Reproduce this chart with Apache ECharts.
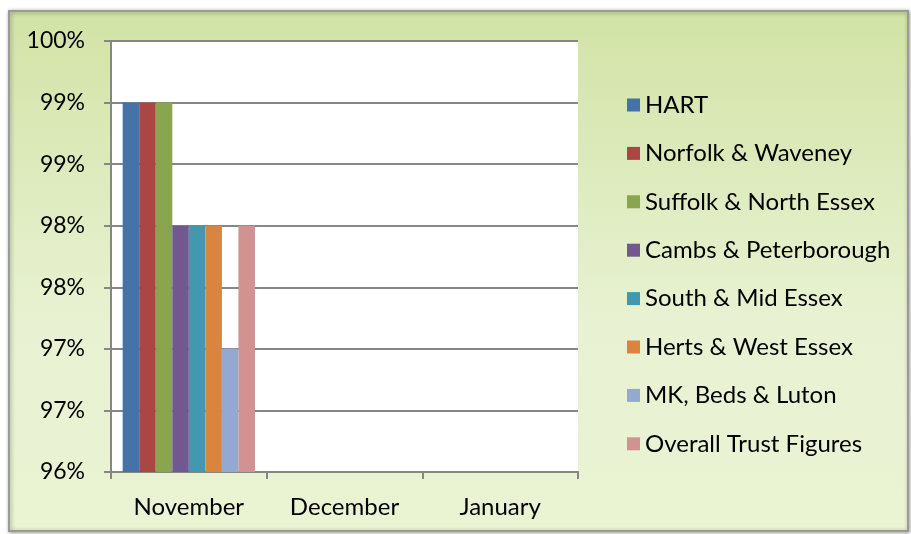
<!DOCTYPE html>
<html>
<head>
<meta charset="utf-8">
<script src="https://cdn.jsdelivr.net/npm/echarts@6/dist/echarts.min.js"></script>
<style>
  html, body { margin: 0; padding: 0; background: #fff; }
  #chart { width: 911px; height: 534px; }
</style>
</head>
<body>
<div id="chart"></div>
<script>
// months on the x axis
const months = ['November', 'December', 'January']

// one entry per area, values as fractions (November only reported)
const seriesNames = [
  'HART',
  'Norfolk & Waveney',
  'Suffolk & North Essex',
  'Cambs & Peterborough',
  'South & Mid Essex',
  'Herts & West Essex',
  'MK, Beds & Luton',
  'Overall Trust Figures',
]
const hart = [0.99, null, null]
const norfolk = [0.99, null, null]
const suffolk = [0.99, null, null]
const cambs = [0.98, null, null]
const southMid = [0.98, null, null]
const hertsWest = [0.98, null, null]
const mkBeds = [0.97, null, null]
const overall = [0.98, null, null]

const seriesColors = ['#4572a7', '#aa4643', '#89a54e', '#71588f', '#4198af', '#db843d', '#93a9cf', '#d09392']

const allValues = [hart, norfolk, suffolk, cambs, southMid, hertsWest, mkBeds, overall]

const FONT = 'Lato'

const chart = echarts.init(document.getElementById('chart'))

const option = {
  animation: false,
  textStyle: { fontFamily: FONT },
  graphic: [
    {
      type: 'rect',
      z: -10,
      shape: { x: 9, y: 11, width: 899, height: 520 },
      style: {
        fill: new echarts.graphic.LinearGradient(0, 0, 0, 1, [
          { offset: 0, color: '#d2e3a6' },
          { offset: 0.6, color: '#e8f2d2' },
          { offset: 1, color: '#eaf3d2' },
        ]),
        stroke: '#9a9a9a',
        lineWidth: 2,
        shadowBlur: 4,
        shadowColor: 'rgba(0,0,0,0.35)',
        shadowOffsetX: 1,
        shadowOffsetY: 1,
      },
    },
  ],
  grid: {
    left: 111,
    top: 41,
    right: 333,
    bottom: 62,
    show: true,
    backgroundColor: '#ffffff',
    borderWidth: 0,
  },
  legend: {
    orient: 'vertical',
    left: 622,
    top: 88,
    itemWidth: 13,
    itemHeight: 13,
    itemGap: 24.4,
    icon: 'rect',
    textStyle: { fontFamily: FONT, fontSize: 24, color: '#000' },
    data: seriesNames,
  },
  xAxis: {
    type: 'category',
    data: months,
    axisLine: { lineStyle: { color: '#868686', width: 2 } },
    axisTick: { show: true, length: 7, lineStyle: { color: '#868686', width: 2 } },
    axisLabel: { fontFamily: FONT, fontSize: 24, color: '#000', margin: 23 },
  },
  yAxis: {
    type: 'value',
    min: 0.96,
    max: 0.995,
    interval: 0.005,
    axisLine: { show: true, lineStyle: { color: '#868686', width: 2 } },
    axisTick: { show: true, length: 7, lineStyle: { color: '#868686', width: 2 } },
    splitLine: { lineStyle: { color: '#868686', width: 2 } },
    axisLabel: {
      fontFamily: FONT,
      fontSize: 23,
      color: '#000',
      margin: 26,
      formatter: (v) => Math.round(Math.round(v * 1000) / 10) + '%',
    },
  },
  series: seriesNames.map((name, i) => ({
    name,
    type: 'bar',
    data: allValues[i],
    barGap: '0%',
    barCategoryGap: '15%',
    itemStyle: { color: seriesColors[i] },
  })),
}

chart.setOption(option)
</script>
</body>
</html>
